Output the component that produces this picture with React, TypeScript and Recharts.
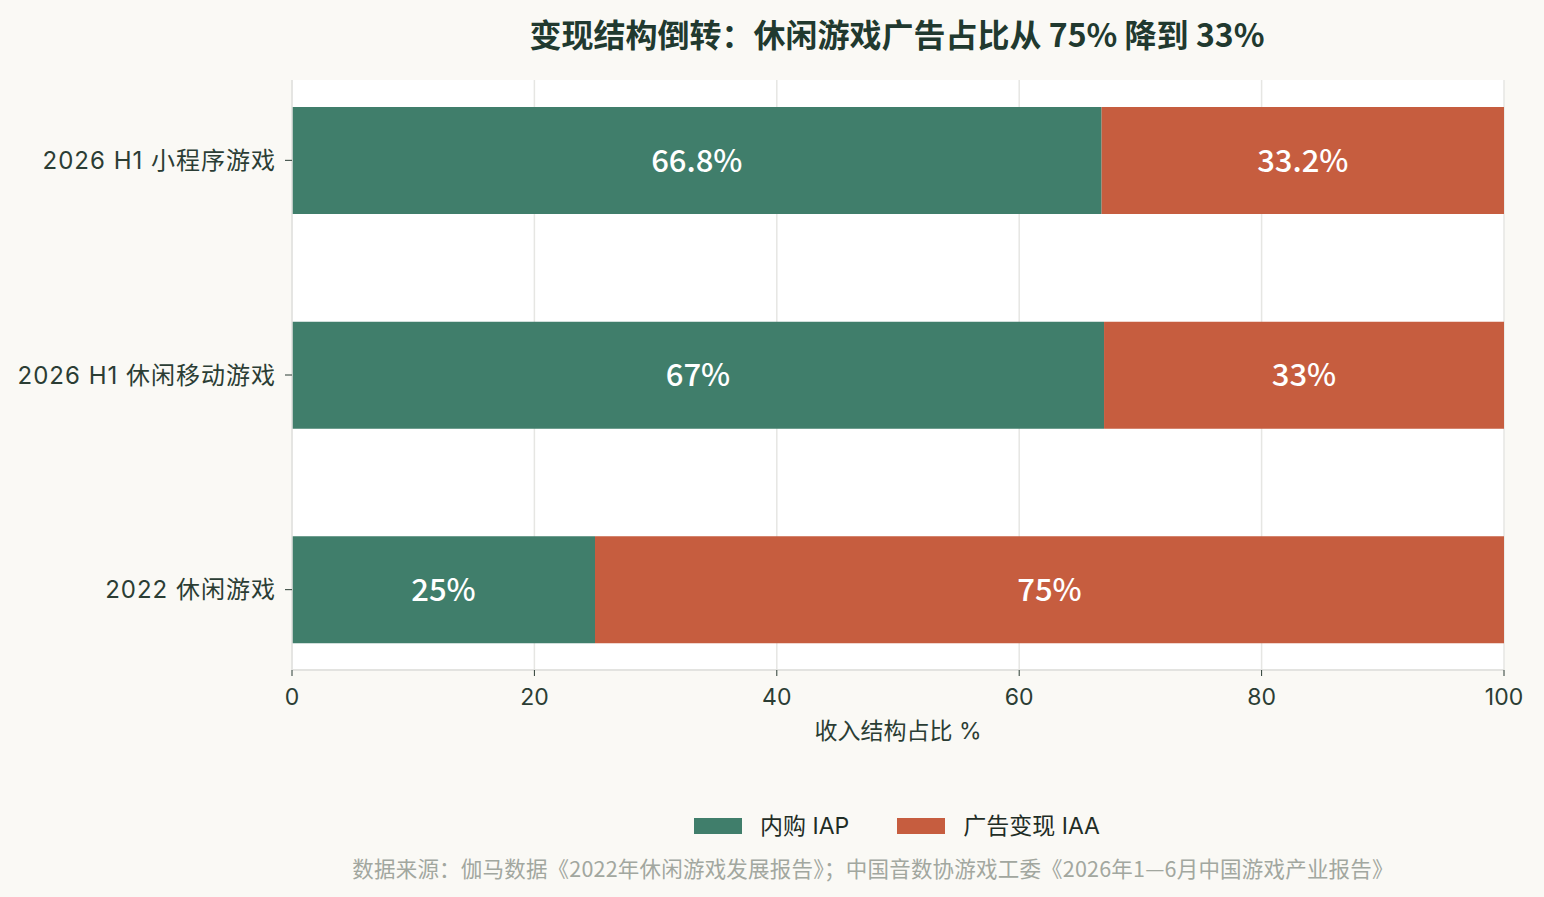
import { BarChart, Bar, XAxis, YAxis, CartesianGrid, LabelList } from 'recharts';

const categories = ['2026 H1 小程序游戏', '2026 H1 休闲移动游戏', '2022 休闲游戏'];
const iapValues = [66.8, 67, 25];
const iaaValues = [33.2, 33, 75];
const xTicks = [0, 20, 40, 60, 80, 100];

const series = [
  { key: 'iap', name: '内购 IAP', color: '#407e6b' },
  { key: 'iaa', name: '广告变现 IAA', color: '#c65d3f' },
];

const data = categories.map((c, i) => ({ name: c, iap: iapValues[i], iaa: iaaValues[i] }));

const FONT = '"Noto Sans CJK SC", "Noto Sans", sans-serif';
const TICK_FONT = 'Inter, "Noto Sans CJK SC", sans-serif';
const TEXT = '#2b3d34';

export default function App() {
  return (
    <div style={{ position: 'absolute', left: 0, top: 0, width: 1544, height: 897, background: '#faf9f5', fontFamily: FONT }}>
      <div style={{ position: 'absolute', top: 11, left: 0, width: 1794, textAlign: 'center', fontSize: 32, lineHeight: '44px', fontWeight: 700, color: '#21392f' }}>
        变现结构倒转：休闲游戏广告占比从 75% 降到 33%
      </div>
      <BarChart
        width={1544}
        height={897}
        data={data}
        layout="vertical"
        barSize={107}
        margin={{ top: 80, right: 40, bottom: 170, left: 22 }}
        style={{ position: 'absolute', left: 0, top: 0 }}
      >
        <CartesianGrid horizontal={false} stroke="#e6e6e3" strokeWidth={1.5} fill="#ffffff" />
        <XAxis
          type="number"
          domain={[0, 100]}
          ticks={xTicks}
          height={57}
          tickSize={6}
          tickMargin={13}
          stroke="#e3e3e0"
          strokeWidth={2}
          tickLine={{ stroke: '#2b3d34', strokeWidth: 1 }}
          tick={{ fill: TEXT, fontSize: 23, fontFamily: TICK_FONT }}
          label={{ value: '收入结构占比 %', position: 'bottom', offset: -4, fill: TEXT, fontSize: 23, fontFamily: TICK_FONT }}
        />
        <YAxis
          type="category"
          dataKey="name"
          width={270}
          padding={{ top: -27, bottom: -27 }}
          tickSize={7}
          tickMargin={9}
          axisLine={{ stroke: '#e3e3e0', strokeWidth: 1.5 }}
          tickLine={{ stroke: '#2b3d34', strokeWidth: 1 }}
          tick={{ fill: TEXT, fontSize: 24, letterSpacing: 1, fontFamily: TICK_FONT }}
        />
        {series.map((s) => (
          <Bar key={s.key} dataKey={s.key} name={s.name} stackId="a" fill={s.color} isAnimationActive={false}>
            <LabelList
              dataKey={s.key}
              position="center"
              formatter={(v: number) => `${v}%`}
              fill="#ffffff"
              style={{ fontSize: 31, fontWeight: 500, fontFamily: FONT }}
            />
          </Bar>
        ))}
      </BarChart>
      <div style={{ position: 'absolute', top: 809, left: 0, width: 1794, display: 'flex', justifyContent: 'center', gap: 48, fontSize: 23, lineHeight: '34px', color: '#1f2d26', fontFamily: TICK_FONT }}>
        {series.map((s) => (
          <div key={s.key} style={{ display: 'flex', alignItems: 'center' }}>
            <span style={{ display: 'inline-block', width: 48, height: 16, background: s.color, marginRight: 18 }} />
            <span>{s.name}</span>
          </div>
        ))}
      </div>
      <div style={{ position: 'absolute', top: 853, left: 0, width: 1746, textAlign: 'center', fontSize: 21.5, letterSpacing: 0.2, lineHeight: '30px', color: '#a2a79f' }}>
        数据来源：伽马数据《2022年休闲游戏发展报告》；中国音数协游戏工委《2026年1—6月中国游戏产业报告》
      </div>
    </div>
  );
}
